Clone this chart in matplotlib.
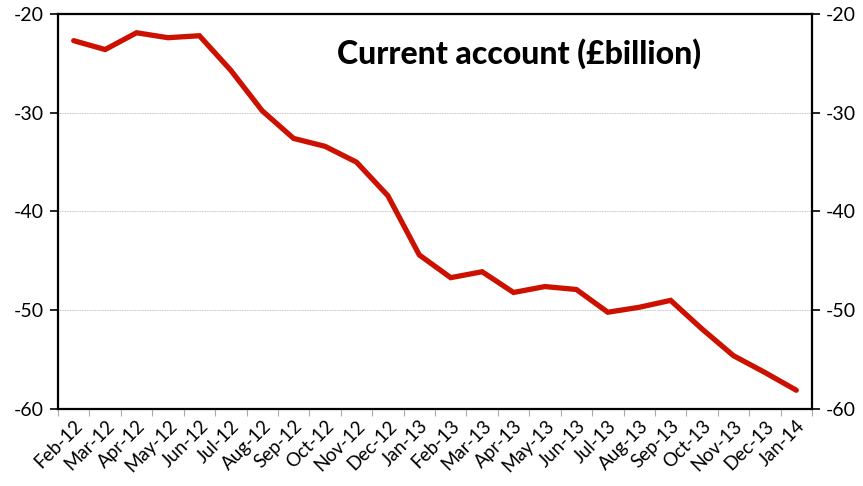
import matplotlib
matplotlib.use("Agg")
import matplotlib.pyplot as plt

months = ["Feb-12", "Mar-12", "Apr-12", "May-12", "Jun-12", "Jul-12", "Aug-12",
          "Sep-12", "Oct-12", "Nov-12", "Dec-12", "Jan-13", "Feb-13", "Mar-13",
          "Apr-13", "May-13", "Jun-13", "Jul-13", "Aug-13", "Sep-13", "Oct-13",
          "Nov-13", "Dec-13", "Jan-14"]
current_account = [-22.7, -23.6, -21.9, -22.4, -22.2, -25.7, -29.8, -32.6, -33.4,
                   -35.0, -38.4, -44.4, -46.7, -46.1, -48.2, -47.6, -47.9, -50.2,
                   -49.7, -49.0, -51.9, -54.6, -56.3, -58.1]
yticks = [-60, -50, -40, -30, -20]

plt.rcParams['font.family'] = ['Lato', 'DejaVu Sans']

fig = plt.figure(figsize=(8.63, 4.86), dpi=100)
ax = fig.add_axes([58 / 863, 1 - 409 / 486, 754 / 863, 395 / 486])

x = list(range(len(months)))
ax.plot(x, current_account, color='#cc1100', linewidth=3.8, solid_capstyle='round',
        solid_joinstyle='miter', zorder=3)

ax.set_xlim(-0.5, len(months) - 0.5)
ax.set_ylim(-60, -20)
ax.set_yticks(yticks)
ax.set_yticklabels([str(v) for v in yticks], fontsize=14)
ax.tick_params(axis='y', which='both', direction='out', length=6, width=1.2,
               left=True, right=True, labelleft=True, labelright=True, pad=4)

# month ticks sit between categories, labels at centres
ax.set_xticks([i - 0.5 for i in range(len(months) + 1)])
ax.set_xticklabels([])
ax.tick_params(axis='x', which='major', direction='out', length=5, width=0.8,
               color='#aaaaaa')
ax.set_xticks(x, minor=True)
ax.set_xticklabels(months, minor=True, rotation=45, ha='right',
                   rotation_mode='anchor', fontsize=13.5)
ax.tick_params(axis='x', which='minor', length=0, pad=6)

for v in [-30, -40, -50]:
    ax.axhline(v, color='#b0b0b0', linewidth=0.6, linestyle=(0, (1, 1)), zorder=1)

for s in ax.spines.values():
    s.set_linewidth(1.6)
    s.set_color('black')

ax.text(0.612, 0.9, "Current account (£billion)", transform=ax.transAxes,
        ha='center', va='center', fontsize=23, fontweight='black')

fig.savefig("out.png", dpi=100)
